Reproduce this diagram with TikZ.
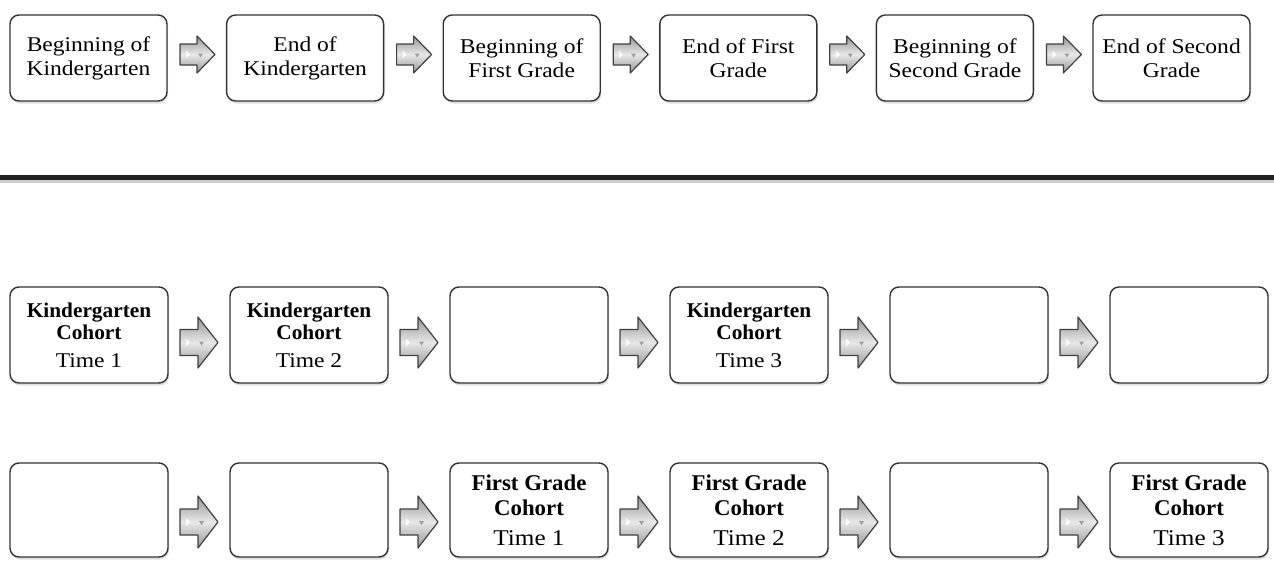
\documentclass[tikz,border=0pt]{standalone}
\usepackage{fontspec}
\setmainfont{Liberation Serif}[FakeStretch=1.12, BoldFeatures={FakeStretch=1.015}]
\usetikzlibrary{shadows}
\definecolor{boxline}{HTML}{333333}
\definecolor{arrowline}{HTML}{404040}
\definecolor{arrowlight}{HTML}{E8E8E8}
\definecolor{arrowdark}{HTML}{959595}
\definecolor{sepdark}{HTML}{222222}
\definecolor{seplight}{HTML}{CCCCCC}
\tikzset{
  box/.style={draw=boxline, line width=1.4pt, rounded corners=9pt, fill=white,
    align=center, inner sep=0pt,
    drop shadow={shadow xshift=1pt, shadow yshift=-2.5pt, opacity=0.25}},
  toprow/.style={box, minimum width=157pt, minimum height=86pt,
    font=\fontsize{21}{24}\selectfont},
  midrow/.style={box, minimum width=158pt, minimum height=96pt,
    font=\fontsize{21}{22}\selectfont},
  botrow/.style={box, minimum width=158pt, minimum height=94pt,
    font=\fontsize{22.5}{25}\selectfont},
  pics/barrow/.style n args={4}{code={
    \shadedraw[top color=arrowdark, bottom color=arrowdark, middle color=arrowlight,
      draw=arrowline, line width=1.2pt, line join=round]
      ({-#1/2},{-#3}) -- ({-#1/2+#2},{-#3}) -- ({-#1/2+#2},{-#4}) -- ({#1/2},0)
      -- ({-#1/2+#2},{#4}) -- ({-#1/2+#2},{#3}) -- ({-#1/2},{#3}) -- cycle;
    \fill[white, opacity=0.85] ({-#1/2+6},{-4}) -- ({-#1/2+10},0) -- ({-#1/2+6},{4}) -- cycle;
    \fill[gray!75] ({-#1/2+#2+1},{-1}) -- ({-#1/2+#2+6},{-1}) -- ({-#1/2+#2+3.5},{3}) -- cycle;
  }}
}
\begin{document}
\begin{tikzpicture}[x=1pt, y=-1pt]
\useasboundingbox (0,0) rectangle (1274,565);
% top row
\node[toprow] (t1) at (88.5,58) {Beginning of\\Kindergarten};
\node[toprow] (t2) at (305.1,58) {End of\\Kindergarten};
\node[toprow] (t3) at (521.7,58) {Beginning of\\First Grade};
\node[toprow] (t4) at (738.3,58) {End of First\\Grade};
\node[toprow] (t5) at (954.9,58) {Beginning of\\Second Grade};
\node[toprow] (t6) at (1171.5,58) {End of Second\\Grade};
\foreach \k in {0,...,4}{
  \pic at ({197.5+216.6*\k},54.5) {barrow={35}{17}{10.5}{18.5}};
}
% separator
\fill[sepdark] (0,175) rectangle (1274,180);
\fill[seplight] (0,180) rectangle (1274,183);
% middle row
\node[midrow] (m1) at (89,335) {\textbf{Kindergarten}\\\textbf{Cohort}\\[6pt]Time 1};
\node[midrow] (m2) at (309,335) {\textbf{Kindergarten}\\\textbf{Cohort}\\[6pt]Time 2};
\node[midrow] (m3) at (529,335) {};
\node[midrow] (m4) at (749,335) {\textbf{Kindergarten}\\\textbf{Cohort}\\[6pt]Time 3};
\node[midrow] (m5) at (969,335) {};
\node[midrow] (m6) at (1189,335) {};
\foreach \k in {0,...,4}{
  \pic at ({199+220*\k},342.5) {barrow={38}{18}{13}{25.5}};
}
% bottom row
\node[botrow] (b1) at (89,510) {};
\node[botrow] (b2) at (309,510) {};
\node[botrow] (b3) at (529,510) {\textbf{First Grade}\\\textbf{Cohort}\\[5pt]Time 1};
\node[botrow] (b4) at (749,510) {\textbf{First Grade}\\\textbf{Cohort}\\[5pt]Time 2};
\node[botrow] (b5) at (969,510) {};
\node[botrow] (b6) at (1189,510) {\textbf{First Grade}\\\textbf{Cohort}\\[5pt]Time 3};
\foreach \k in {0,...,4}{
  \pic at ({199+220*\k},522) {barrow={38}{18}{13}{26}};
}
\end{tikzpicture}
\end{document}
